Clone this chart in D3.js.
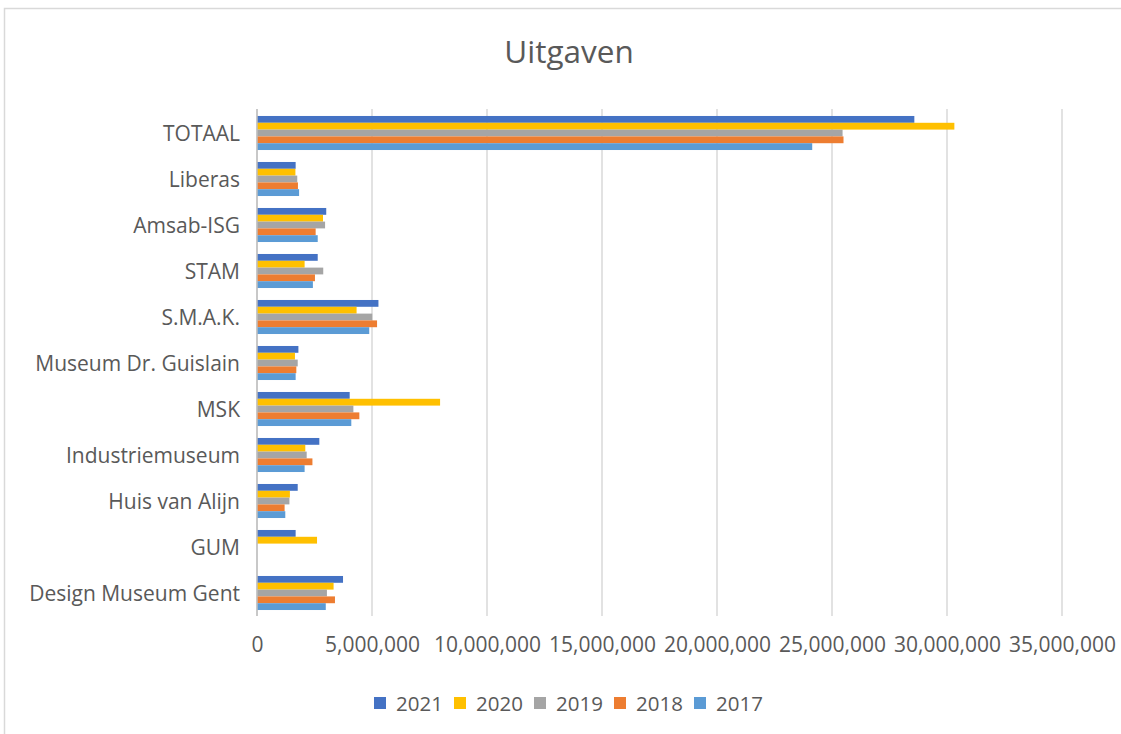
<html>
  <head>
    <meta charset="utf-8">
    <title>Uitgaven</title>
    <script src="https://d3js.org/d3.v7.min.js"></script>
    <style>
      body { margin: 0; background: #fff; }
      text { font-family: "Open Sans", sans-serif; fill: #595959; }
    </style>
  </head>
  <body>
    <svg id="chart" width="1121" height="734"></svg>

    <script>
      // categories, top to bottom as in the chart
      const categories = ["TOTAAL", "Liberas", "Amsab-ISG", "STAM", "S.M.A.K.",
        "Museum Dr. Guislain", "MSK", "Industriemuseum", "Huis van Alijn", "GUM",
        "Design Museum Gent"];
      const years = ["2021", "2020", "2019", "2018", "2017"];

      // expenses per year, same order as categories
      const v2021 = [28580000, 1680000, 3010000, 2640000, 5280000, 1800000, 4030000, 2710000, 1770000, 1680000, 3740000];
      const v2020 = [30320000, 1670000, 2870000, 2070000, 4330000, 1650000, 7960000, 2100000, 1430000, 2610000, 3330000];
      const v2019 = [25460000, 1750000, 2960000, 2880000, 5010000, 1770000, 4190000, 2160000, 1410000, 0, 3040000];
      const v2018 = [25500000, 1780000, 2550000, 2520000, 5220000, 1710000, 4450000, 2410000, 1200000, 0, 3390000];
      const v2017 = [24140000, 1830000, 2640000, 2430000, 4880000, 1680000, 4100000, 2070000, 1230000, 0, 2990000];

      const xTicks = [0, 5000000, 10000000, 15000000, 20000000, 25000000, 30000000, 35000000];
      const colors = ["#4472C4", "#FFC000", "#A5A5A5", "#ED7D31", "#5B9BD5"];

      const series = [v2021, v2020, v2019, v2018, v2017];
      const rows = categories.map((c, i) => {
        let r = { name: c };
        years.forEach((y, j) => r[y] = series[j][i]);
        return r;
      });

      const svg = d3.select("svg#chart");

      // chart frame (bottom and right edges fall outside the picture)
      svg.append("rect")
         .attr("x", 4.5).attr("y", 8.5)
         .attr("width", 1130).attr("height", 740)
         .attr("fill", "none")
         .attr("stroke", "#d9d9d9")
         .attr("stroke-width", 1.5);

      const x = d3.scaleLinear().domain([0, 35000000]).range([257, 1062]);
      const y = d3.scaleBand().domain(categories).range([110, 616])
                  .paddingInner(0.26).paddingOuter(0.13);
      const yInner = d3.scaleBand().domain(years).range([0, y.bandwidth()]);
      const color = d3.scaleOrdinal().domain(years).range(colors);

      // title
      svg.append("text")
         .attr("x", 569).attr("y", 63)
         .attr("text-anchor", "middle")
         .style("font-size", "31.5px")
         .text("Uitgaven");

      // gridlines
      svg.append("g").selectAll("line").data(xTicks)
         .join("line")
         .attr("x1", d => x(d)).attr("x2", d => x(d))
         .attr("y1", 109).attr("y2", 616)
         .attr("stroke", "#d9d9d9")
         .attr("stroke-width", 1.5);

      // bars
      svg.append("g").selectAll("g").data(rows)
         .join("g")
         .attr("transform", d => "translate(0," + y(d.name) + ")")
         .selectAll("rect")
         .data(d => years.map(k => ({ key: k, value: d[k] })))
         .join("rect")
         .attr("x", x(0))
         .attr("y", d => yInner(d.key))
         .attr("width", d => x(d.value) - x(0))
         .attr("height", yInner.bandwidth())
         .attr("fill", d => color(d.key));

      // left axis line
      svg.append("line")
         .attr("x1", x(0)).attr("x2", x(0))
         .attr("y1", 109).attr("y2", 616)
         .attr("stroke", "#bfbfbf")
         .attr("stroke-width", 1.5);

      // category labels
      const yAxis = d3.axisLeft(y).tickSize(0).tickPadding(17);
      svg.append("g")
         .attr("transform", "translate(" + x(0) + ",0)")
         .call(yAxis)
         .call(g => g.select(".domain").remove())
         .selectAll("text")
         .attr("dy", "0.38em")
         .style("font-size", "21px")
         .attr("fill", "#595959");

      // value axis labels
      const xAxis = d3.axisBottom(x).tickValues(xTicks)
                      .tickFormat(d3.format(",")).tickSize(0).tickPadding(22);
      svg.append("g")
         .attr("transform", "translate(0,615)")
         .call(xAxis)
         .call(g => g.select(".domain").remove())
         .selectAll("text")
         .style("font-size", "21px")
         .attr("fill", "#595959");

      // legend
      const legend = svg.append("g").attr("transform", "translate(374,703)");
      const item = legend.selectAll("g").data(years)
         .join("g")
         .attr("transform", (d, i) => "translate(" + (i * 80) + ",0)");
      item.append("rect")
          .attr("x", 0).attr("y", -6)
          .attr("width", 12).attr("height", 12)
          .attr("fill", d => color(d));
      item.append("text")
          .attr("x", 22).attr("y", 8)
          .style("font-size", "20.5px")
          .text(d => d);
    </script>
  </body>
</html>
